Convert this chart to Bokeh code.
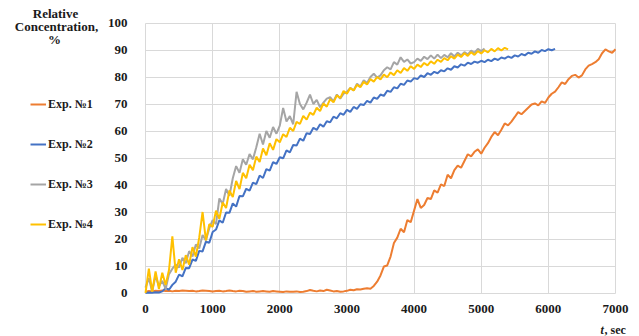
from bokeh.plotting import figure
from bokeh.models import FixedTicker, Legend, LegendItem, Label, Range1d
from bokeh.embed import file_html
from bokeh.resources import INLINE

STEP = 50
exp1 = [0.5,0.7,0.6,0.8,0.7,0.9,0.7,0.8,0.6,0.8,
        0.7,0.9,0.8,0.7,0.8,0.6,0.7,0.9,0.8,0.7,
        0.6,0.7,0.8,0.6,0.7,0.9,0.7,0.6,0.8,0.7,
        0.5,0.6,0.7,0.5,0.6,0.7,0.6,0.5,0.7,0.6,
        0.5,0.4,0.6,0.5,0.5,0.6,0.4,0.5,0.7,1.1,
        0.8,0.6,0.9,0.7,1.2,0.9,0.6,0.7,0.5,0.6,
        0.8,1.2,1.0,1.4,1.3,1.6,1.8,1.6,2.6,4.2,
        6.5,9.8,10.2,13.5,18.5,20.5,23.8,22.5,27.0,26.2,
        30.5,34.8,31.5,32.6,35.2,34.8,38.0,37.2,40.2,39.6,
        43.8,42.5,45.5,47.2,46.4,48.9,51.4,50.6,52.3,53.2,
        51.6,53.8,55.5,57.8,59.6,58.4,60.5,62.8,62.1,63.5,
        65.2,67.0,66.2,67.4,68.6,69.8,70.2,69.5,71.0,70.4,
        72.4,73.8,74.6,76.2,78.0,77.4,79.2,80.4,80.8,79.8,
        80.6,82.8,84.2,84.8,85.5,86.6,88.8,90.2,89.5,89.0,
        90.3]
exp2 = [0.0,0.2,0.1,0.3,0.2,0.6,1.8,1.2,3.0,4.2,
        6.8,6.2,9.3,9.2,12.4,11.9,15.6,15.4,19.0,18.6,
        22.6,23.5,26.9,26.0,29.8,29.7,33.2,32.0,35.9,35.8,
        38.6,37.9,40.9,40.3,43.5,42.6,45.9,45.3,48.5,47.8,
        50.3,49.9,52.8,52.1,54.8,54.6,57.2,56.4,59.2,58.9,
        61.2,60.4,62.5,61.6,63.6,63.2,65.3,64.7,66.6,66.0,
        67.8,67.1,68.9,68.2,69.9,69.6,71.2,70.5,72.4,71.9,
        73.5,73.0,74.9,74.5,76.2,75.8,77.5,77.1,78.7,78.3,
        79.6,79.2,80.6,80.0,81.4,80.8,81.9,81.4,82.5,82.1,
        83.2,82.7,84.0,83.5,84.7,84.2,85.3,84.8,85.7,85.3,
        86.0,85.5,86.4,85.9,86.8,86.3,87.2,86.8,87.6,87.1,
        88.0,87.6,88.5,88.0,89.0,88.6,89.5,89.0,90.0,89.6,
        90.3,89.9,90.4]
exp3 = [2.0,5.5,0.5,6.5,2.5,4.5,1.5,7.0,9.0,10.5,
        9.5,13.0,11.0,15.5,13.5,18.0,16.5,21.5,19.5,24.0,
        27.0,25.5,35.0,33.0,38.5,36.0,42.5,47.0,44.5,49.5,
        47.5,51.5,49.5,54.0,59.0,55.0,60.0,57.5,61.5,59.0,
        62.0,68.5,63.5,65.5,62.5,74.5,70.0,68.0,70.5,73.5,
        70.0,71.5,68.8,70.5,72.0,72.5,71.0,73.5,72.0,73.8,
        74.5,76.0,75.0,77.5,76.5,78.8,77.8,80.0,81.2,79.8,
        80.6,82.5,83.6,82.8,85.5,84.6,87.3,85.6,86.5,85.0,
        85.5,86.8,86.0,87.5,86.6,88.0,86.8,88.3,87.0,88.2,
        87.3,88.8,87.6,89.0,88.0,89.2,88.4,89.8,88.9,90.4,
        89.6,90.5]
exp4 = [0.0,9.0,0.5,8.0,1.5,7.5,3.0,8.5,21.0,7.5,
        12.5,8.5,14.0,10.5,17.0,13.5,20.5,30.0,19.5,25.5,
        24.5,30.5,27.5,33.5,31.5,38.0,35.5,41.5,38.5,44.5,
        42.5,47.5,45.5,50.5,48.5,53.5,51.0,55.5,53.0,57.0,
        55.8,58.8,57.8,61.2,60.0,63.4,62.6,65.6,64.2,66.8,
        66.0,68.6,67.4,70.2,69.0,71.8,70.6,73.2,72.2,74.8,
        73.8,75.9,75.0,77.1,76.2,78.2,77.2,79.2,78.3,80.0,
        79.1,80.9,79.9,81.7,80.7,82.5,81.5,83.3,82.3,84.0,
        83.0,84.6,83.7,85.2,84.3,85.8,84.9,86.4,85.6,87.0,
        86.2,87.7,86.8,88.3,87.4,88.8,87.8,89.2,88.2,89.6,
        88.7,89.9,89.1,90.4,89.5,90.7,89.8,90.8,90.2]

series_names = ["Exp. №1", "Exp. №2", "Exp. №3", "Exp. №4"]
series_values = [exp1, exp2, exp3, exp4]
colors = ["#ED7D31", "#4472C4", "#A5A5A5", "#FFC000"]
x_ticks = [0, 1000, 2000, 3000, 4000, 5000, 6000, 7000]
y_ticks = [0, 10, 20, 30, 40, 50, 60, 70, 80, 90, 100]
X_MIN, X_MAX, Y_MIN, Y_MAX = 0, 7000, 0, 100

FONT = "'Liberation Serif', 'Times New Roman', serif"
TXT = "#1a1a1a"

# canvas geometry (px): plot area inside the canvas
W, H = 639, 336
PL, PR, PT, PB = 145, 615, 22.5, 292.5
sx = (X_MAX - X_MIN) / (PR - PL)
sy = (Y_MAX - Y_MIN) / (PB - PT)
xr = Range1d(X_MIN - PL * sx, X_MAX + (W - PR) * sx)
yr = Range1d(Y_MIN - (H - PB) * sy, Y_MAX + PT * sy)

p = figure(width=W, height=H, output_backend="svg", toolbar_location=None,
           x_range=xr, y_range=yr, min_border=0)
p.outline_line_color = None
p.background_fill_color = "white"
p.border_fill_color = "white"

for ax in (p.xaxis[0], p.yaxis[0]):
    ax.axis_line_color = None
    ax.major_tick_line_color = None
    ax.minor_tick_line_color = None
    ax.major_label_text_font = FONT
    ax.major_label_text_font_style = "bold"
    ax.major_label_text_font_size = "13px"
    ax.major_label_text_color = TXT
    ax.fixed_location = 0
p.xaxis[0].ticker = FixedTicker(ticks=x_ticks)
p.yaxis[0].ticker = FixedTicker(ticks=y_ticks)
p.xaxis[0].major_label_standoff = 6
p.yaxis[0].major_label_standoff = 12

p.xgrid[0].ticker = FixedTicker(ticks=x_ticks)
p.ygrid[0].ticker = FixedTicker(ticks=y_ticks)
try:
    p.xgrid[0].cross_bounds = (Y_MIN, Y_MAX)
    p.ygrid[0].cross_bounds = (X_MIN, X_MAX)
    for g in (p.xgrid[0], p.ygrid[0]):
        g.grid_line_color = "#D9D9D9"
        g.grid_line_width = 1
except AttributeError:
    p.xgrid[0].visible = False
    p.ygrid[0].visible = False
    p.segment(x0=x_ticks, y0=[Y_MIN] * len(x_ticks), x1=x_ticks, y1=[Y_MAX] * len(x_ticks),
              line_color="#D9D9D9", line_width=1)
    p.segment(x0=[X_MIN] * len(y_ticks), y0=y_ticks, x1=[X_MAX] * len(y_ticks), y1=y_ticks,
              line_color="#D9D9D9", line_width=1)

items = []
for name, vals, col in zip(series_names, series_values, colors):
    ts = [i * STEP for i in range(len(vals))]
    r = p.line(ts, vals, line_color=col, line_width=2)
    items.append(LegendItem(label=name, renderers=[r]))

legend = Legend(items=items, location=(30, 102), orientation="vertical",
                glyph_width=16, glyph_height=14, label_standoff=2,
                label_height=20, spacing=20, padding=0, margin=0,
                border_line_color=None, background_fill_alpha=0,
                label_text_font=FONT, label_text_font_style="bold",
                label_text_font_size="12px", label_text_color=TXT)
p.add_layout(legend, "center")

for txt, xx, yy in (("Relative", 55, 323), ("Concentration,", 56, 310), ("%", 54, 297)):
    p.add_layout(Label(x=xx, y=yy, x_units="screen", y_units="screen", text=txt,
                       text_align="center", text_baseline="middle",
                       text_font=FONT, text_font_style="bold",
                       text_font_size="13px", text_color=TXT))

p.add_layout(Label(x=600, y=7, x_units="screen", y_units="screen", text="t",
                   text_align="left", text_baseline="middle",
                   text_font=FONT, text_font_style="bold italic",
                   text_font_size="12px", text_color=TXT))
p.add_layout(Label(x=604, y=7, x_units="screen", y_units="screen", text=", sec",
                   text_align="left", text_baseline="middle",
                   text_font=FONT, text_font_style="bold",
                   text_font_size="12px", text_color=TXT))

open("out.html", "w").write(file_html(p, INLINE))
